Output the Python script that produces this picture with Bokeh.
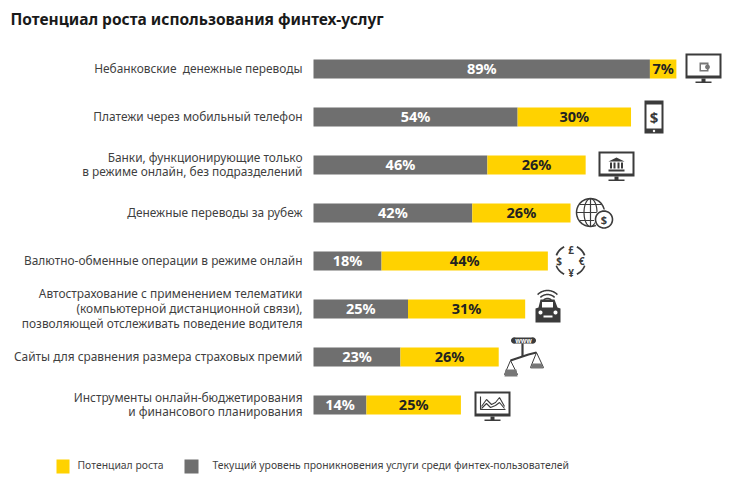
import numpy as np
from bokeh.plotting import figure
from bokeh.models import Range1d
from bokeh.core.properties import value
from bokeh.embed import file_html
from bokeh.resources import INLINE

title_text = "Потенциал роста использования финтех-услуг"
categories = [
    "Небанковские\u00a0 денежные переводы",
    "Платежи через мобильный телефон",
    "Банки, функционирующие только\nв режиме онлайн, без подразделений",
    "Денежные переводы за рубеж",
    "Валютно-обменные операции в режиме онлайн",
    "Автострахование с применением телематики\n(компьютерной дистанционной связи),\nпозволяющей отслеживать поведение водителя",
    "Сайты для сравнения размера страховых премий",
    "Инструменты онлайн-бюджетирования\nи финансового планирования",
]
current = [89, 54, 46, 42, 18, 25, 23, 14]
potential = [7, 30, 26, 26, 44, 31, 26, 25]
legend_potential = "Потенциал роста"
legend_current = "Текущий уровень проникновения услуги среди финтех-пользователей"

GRAY = "#6f6f6f"
YELLOW = "#ffd200"
DARK = "#3b3b3b"
LABEL = "#3f3f3f"
FONT = "Noto Sans"

# frame covers pixels 0..724 / 0..474; bars: 0% at px 313, 3.78 px per %
PX = 3.78
p = figure(width=724, height=474, output_backend="svg", toolbar_location=None,
           x_axis_location=None, y_axis_location=None, min_border=0,
           x_range=Range1d((0 - 313) / PX, (724 - 313) / PX),
           y_range=Range1d((474 - 68.5) / 48, (0 - 68.5) / 48),
           background_fill_color="white", outline_line_color=None)
p.grid.visible = False
p.extra_x_ranges["px"] = Range1d(0, 724)
p.extra_y_ranges["px"] = Range1d(474, 0)
PXR = dict(x_range_name="px", y_range_name="px")

rows = np.arange(len(categories))
cur = np.array(current)
pot = np.array(potential)
p.hbar(y=rows, left=0, right=cur, height=19 / 48, fill_color=GRAY, line_color=None)
p.hbar(y=rows, left=cur, right=cur + pot, height=19 / 48, fill_color=YELLOW, line_color=None)

p.text(x=cur / 2, y=rows, text=[f"{v}%" for v in current], text_align="center", y_offset=-1,
       text_baseline="middle", text_color="white", text_font=value(FONT),
       text_font_style="bold", text_font_size="14.5px")
p.text(x=cur + pot / 2, y=rows, text=[f"{v}%" for v in potential], text_align="center", y_offset=-1,
       text_baseline="middle", text_color="#222222", text_font=value(FONT),
       text_font_style="bold", text_font_size="14.5px")

# category labels, one text per line, right aligned just left of the bars
LINE = 14.8
for i, cat in enumerate(categories):
    lines = cat.split("\n")
    for j, s in enumerate(lines):
        p.text(x=[-11 / PX], y=[i], text=[s], y_offset=(j - (len(lines) - 1) / 2) * LINE - 1,
               text_align="right", text_baseline="middle", text_color=LABEL,
               text_font=value(FONT), text_font_size="11.9px")

# title and legend
p.text(x=[10], y=[18], text=[title_text], text_baseline="middle", text_color="#1a1a1a",
       text_font=value(FONT), text_font_style="bold", text_font_size="15.5px", **PXR)
p.quad(left=[56], right=[69], top=[459], bottom=[473], fill_color=YELLOW, line_color=None, **PXR)
p.quad(left=[184], right=[198], top=[459], bottom=[473], fill_color=GRAY, line_color=None, **PXR)
p.text(x=[77], y=[464.5], text=[legend_potential], text_baseline="middle", text_color=LABEL,
       text_font=value(FONT), text_font_size="10.4px", **PXR)
p.text(x=[212], y=[464.5], text=[legend_current], text_baseline="middle", text_color=LABEL,
       text_font=value(FONT), text_font_size="10.4px", **PXR)


# ---- decorative icons, drawn in pixels ----
def box(l, t, r, b, color=DARK):
    p.quad(left=[l], right=[r], top=[t], bottom=[b], fill_color=color, line_color=None, **PXR)

def pl(xs, ys, w=1.5, color=DARK):
    p.line(x=xs, y=ys, line_color=color, line_width=w, **PXR)

def patch(xs, ys, color=DARK):
    p.patch(x=xs, y=ys, fill_color=color, line_color=None, **PXR)

def ring(cx, cy, r, w=1.5, a0=0, a1=360, color=DARK, rx=None):
    t = np.radians(np.linspace(a0, a1, 41))
    pl(list(cx + (rx if rx is not None else r) * np.cos(t)), list(cy - r * np.sin(t)), w, color)

def disc(cx, cy, r, color="white"):
    t = np.radians(np.linspace(0, 360, 41))
    patch(list(cx + r * np.cos(t)), list(cy - r * np.sin(t)), color)

def glyph(x, y, s, size, color=DARK, style="bold"):
    p.text(x=[x], y=[y], text=[s], text_align="center", text_baseline="middle",
           text_color=color, text_font=value(FONT), text_font_style=style,
           text_font_size=f"{size}px", **PXR)

def monitor(l, t):
    box(l, t, l + 36, t + 25)
    box(l + 2, t + 2, l + 34, t + 22, "white")
    box(l + 16, t + 25, l + 20, t + 29)
    box(l + 10, t + 28, l + 26, t + 29.5)

# 1 monitor with wallet
monitor(685, 53)
box(699, 62, 708, 71, "#777777")
box(700.5, 64, 706.5, 69.5, "white")
disc(707, 66.5, 2.4, "#777777")

# 2 phone
box(644, 100, 663, 133)
box(646, 104, 661, 128, "white")
disc(653.5, 130.5, 1.2)
glyph(653.5, 116, "$", 15)

# 3 monitor with bank
monitor(598, 151)
patch([608, 616, 624], [161, 157, 161])
for bx in (609.5, 613, 617, 620.5):
    box(bx, 162, bx + 2, 168)
box(608, 169, 624, 171)

# 4 globe and coin
ring(590, 212, 14)
ring(590, 212, 14, 1.2, rx=6.5)
pl([576, 604], [212, 212], 1.2)
pl([590, 590], [198, 226], 1.2)
pl([579, 601], [204, 204], 1.2)
pl([579, 601], [220, 220], 1.2)
disc(603.5, 219, 10)
ring(603.5, 219, 8.5, 1.6)
glyph(603.5, 219, "$", 11)

# 5 currency ring
for a0, a1 in ((20, 65), (115, 160), (200, 245), (295, 340)):
    ring(570, 260, 15, 1.8, a0, a1)
glyph(570.5, 249, "£", 10)
glyph(558.5, 260, "$", 10)
glyph(581, 260, "€", 10)
glyph(570.5, 272, "¥", 10)

# 6 connected car
ring(547, 304, 6, 1.5, 50, 130)
ring(547, 304, 10, 1.5, 45, 135)
ring(547, 304, 14, 1.5, 45, 135)
patch([540, 554, 557, 560, 560, 535, 535, 538], [299, 299, 307, 308, 322, 322, 308, 307])
box(541.5, 301.5, 552.5, 307, "white")
disc(540, 312, 2)
disc(555, 312, 2)
box(543, 315, 552, 317, "white")

# 7 scales with www
box(513, 337, 533, 343)
disc(513.5, 340, 3, DARK)
disc(532.5, 340, 3, DARK)
glyph(523, 340, "www", 6.5, "white")
pl([522, 522], [343, 356], 2.2)
pl([510, 516, 522, 528, 536], [360, 358, 356, 354, 352], 2)
pl([510, 504, 517, 510], [360, 374, 374, 360], 1)
pl([536, 530, 543, 536], [352, 367, 367, 352], 1)
patch([505, 516, 517, 504], [369, 369, 376, 376], "#777777")
patch([532, 541, 543, 530], [363, 363, 368, 368], "#777777")

# 8 monitor with chart
monitor(474, 391)
pl([480, 480, 505], [396, 409, 409], 1.1)
pl([481, 486, 491, 495, 499, 504], [406, 399, 404, 402, 397, 406], 1.1)
pl([481, 486, 490, 495, 499, 504], [408, 403, 407, 405, 402, 408], 1.1)

open("out.html", "w").write(file_html(p, INLINE))
